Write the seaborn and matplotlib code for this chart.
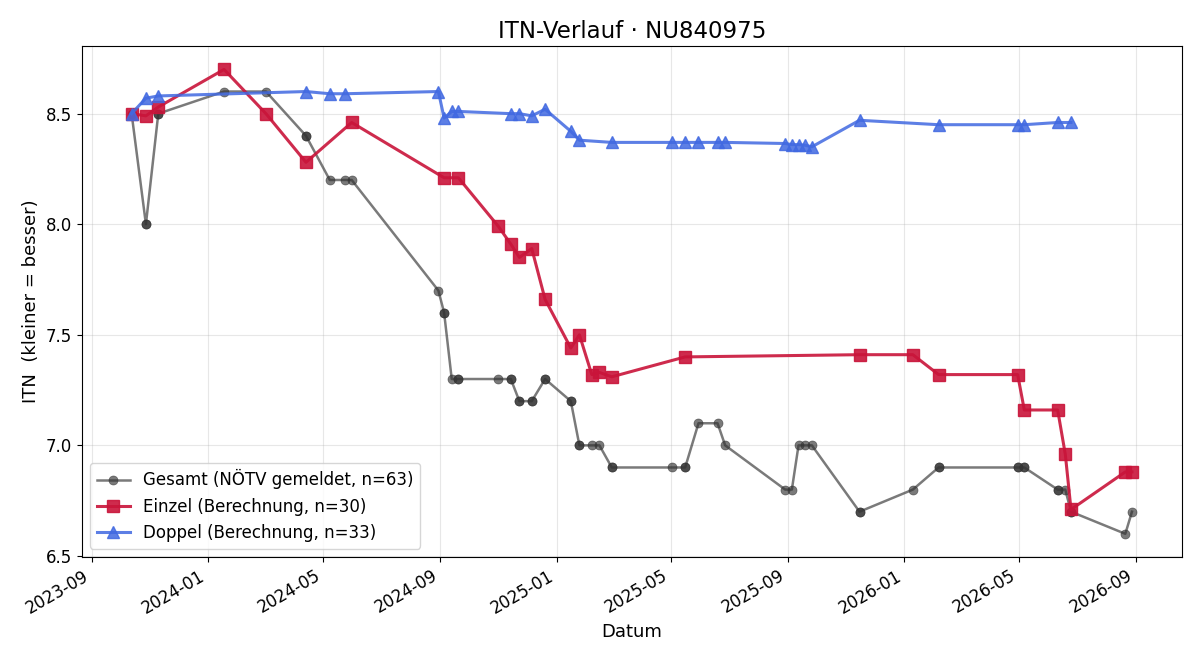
import seaborn as sns
import matplotlib.pyplot as plt
import matplotlib.dates as mdates
import pandas as pd

# Einzel: Datum, berechnete ITN, gemeldete NÖTV-ITN am selben Tag
einzel_dates = ['2023-10-13', '2023-10-28', '2023-11-10', '2024-01-18', '2024-03-02',
                '2024-04-13', '2024-05-31', '2024-09-05', '2024-09-20', '2024-11-01',
                '2024-11-14', '2024-11-23', '2024-12-06', '2024-12-20', '2025-01-16',
                '2025-01-25', '2025-02-07', '2025-02-15', '2025-02-28', '2025-05-16',
                '2025-11-15', '2026-01-10', '2026-02-06', '2026-04-30', '2026-05-07',
                '2026-06-11', '2026-06-19', '2026-06-25', '2026-08-21', '2026-08-28']
einzel_itn = [8.50, 8.49, 8.53, 8.70, 8.50, 8.28, 8.46, 8.21, 8.21, 7.99,
              7.91, 7.85, 7.89, 7.66, 7.44, 7.50, 7.32, 7.33, 7.31, 7.40,
              7.41, 7.41, 7.32, 7.32, 7.16, 7.16, 6.96, 6.71, 6.88, 6.88]
einzel_noetv = [8.5, 8.0, 8.5, 8.6, 8.6, 8.4, 8.2, 7.6, 7.3, 7.3,
                7.3, 7.2, 7.2, 7.3, 7.2, 7.0, 7.0, 7.0, 6.9, 6.9,
                6.7, 6.8, 6.9, 6.9, 6.9, 6.8, 6.8, 6.7, 6.6, 6.7]

# Doppel
doppel_dates = ['2023-10-13', '2023-10-28', '2023-11-10', '2024-04-13', '2024-05-08',
                '2024-05-24', '2024-08-30', '2024-09-05', '2024-09-13', '2024-09-20',
                '2024-11-14', '2024-11-23', '2024-12-06', '2024-12-20', '2025-01-16',
                '2025-01-25', '2025-02-28', '2025-05-02', '2025-05-16', '2025-05-30',
                '2025-06-19', '2025-06-27', '2025-08-29', '2025-09-05', '2025-09-12',
                '2025-09-19', '2025-09-26', '2025-11-15', '2026-02-06', '2026-04-30',
                '2026-05-07', '2026-06-11', '2026-06-25']
doppel_itn = [8.50, 8.57, 8.58, 8.60, 8.59, 8.59, 8.60, 8.48, 8.51, 8.51,
              8.50, 8.50, 8.49, 8.52, 8.42, 8.38, 8.37, 8.37, 8.37, 8.37,
              8.37, 8.37, 8.365, 8.36, 8.36, 8.357, 8.35, 8.47, 8.45, 8.45,
              8.45, 8.46, 8.46]
doppel_noetv = [8.5, 8.0, 8.5, 8.4, 8.2, 8.2, 7.7, 7.6, 7.3, 7.3,
                7.3, 7.2, 7.2, 7.3, 7.2, 7.0, 6.9, 6.9, 6.9, 7.1,
                7.1, 7.0, 6.8, 6.8, 7.0, 7.0, 7.0, 6.7, 6.9, 6.9,
                6.9, 6.8, 6.7]

einzel = pd.DataFrame({'Datum': pd.to_datetime(einzel_dates), 'ITN': einzel_itn})
doppel = pd.DataFrame({'Datum': pd.to_datetime(doppel_dates), 'ITN': doppel_itn})
gesamt = pd.DataFrame({'Datum': pd.to_datetime(einzel_dates + doppel_dates),
                       'ITN': einzel_noetv + doppel_noetv}).sort_values('Datum', kind='stable')

fig, ax = plt.subplots(figsize=(12, 6.6), dpi=100)

sns.lineplot(data=gesamt, x='Datum', y='ITN', ax=ax, estimator=None, sort=False,
             color='#333333', alpha=0.65, linewidth=1.8, marker='o', markersize=6.5,
             markeredgecolor='#333333', markeredgewidth=0.5,
             label=f'Gesamt (NÖTV gemeldet, n={len(gesamt)})')
sns.lineplot(data=einzel, x='Datum', y='ITN', ax=ax, estimator=None,
             color='#c9143a', alpha=0.9, linewidth=2.2, marker='s', markersize=8,
             markeredgecolor='#c9143a', markeredgewidth=1,
             label=f'Einzel (Berechnung, n={len(einzel)})')
sns.lineplot(data=doppel, x='Datum', y='ITN', ax=ax, estimator=None,
             color='royalblue', alpha=0.85, linewidth=2.2, marker='^', markersize=8,
             markeredgecolor='royalblue', markeredgewidth=1,
             label=f'Doppel (Berechnung, n={len(doppel)})')

ax.set_title('ITN-Verlauf · NU840975', fontsize=16.5)
ax.set_xlabel('Datum', fontsize=13)
ax.set_ylabel('ITN  (kleiner = besser)', fontsize=13)
ax.grid(True, alpha=0.3)
ax.xaxis.set_major_locator(mdates.MonthLocator(bymonth=(1, 5, 9)))
ax.xaxis.set_major_formatter(mdates.DateFormatter('%Y-%m'))
ax.tick_params(labelsize=12)
ax.legend(loc='lower left', fontsize=12)
fig.autofmt_xdate()
fig.subplots_adjust(left=0.068, right=0.985, top=0.930, bottom=0.156)
plt.savefig('out.png')
